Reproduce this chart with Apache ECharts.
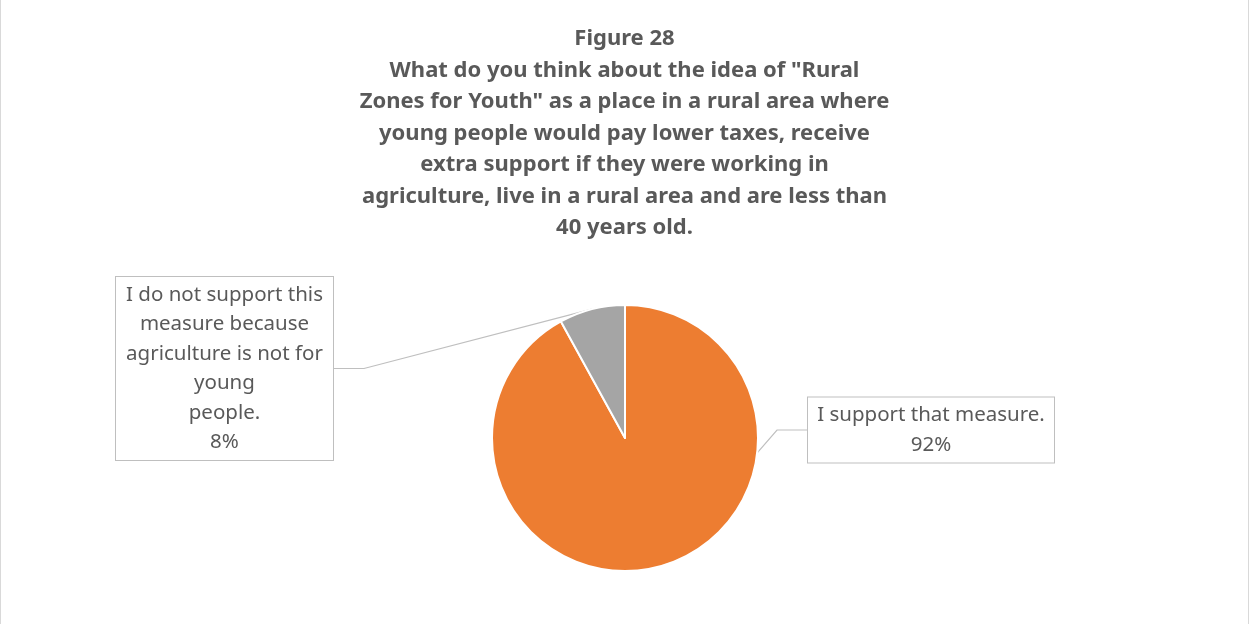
<!DOCTYPE html>
<html>
<head>
<meta charset="utf-8">
<script src="https://cdn.jsdelivr.net/npm/echarts@6/dist/echarts.min.js"></script>
<style>
  body { margin: 0; background: #fff; }
  #main { width: 1249px; height: 624px; }
  #frame { position: absolute; left: 0; top: 0; width: 1247px; height: 624px;
           border-left: 1px solid #D9D9D9; border-right: 1px solid #D9D9D9; pointer-events: none; }
</style>
</head>
<body>
<div id="main"></div>
<div id="frame"></div>
<script>
  const titleLines = [
    'Figure 28',
    'What do you think about the idea of "Rural',
    'Zones for Youth" as a place in a rural area where',
    'young people would pay lower taxes, receive',
    'extra support if they were working in',
    'agriculture, live in a rural area and are less than',
    '40 years old.'
  ];
  const categories = [
    'I support that measure.',
    'I do not support this\nmeasure because\nagriculture is not for\nyoung\npeople.'
  ];
  const values = [92, 8];
  const colors = ['#ED7D31', '#A5A5A5'];
  // callout boxes: centre and inner width
  const labelBoxes = [
    {x: 931, y: 430, w: 234},
    {x: 224.5, y: 368.5, w: 205}
  ];

  const chart = echarts.init(document.getElementById('main'));
  const font = '"Noto Sans", sans-serif';

  chart.setOption({
    animation: false,
    title: {
      text: titleLines.join('\n'),
      left: 'center',
      top: 18,
      textStyle: {
        fontFamily: font,
        fontSize: 22,
        fontWeight: 'bold',
        color: '#595959',
        lineHeight: 31.5
      }
    },
    series: [{
      type: 'pie',
      center: [625, 438],
      radius: 133,
      startAngle: 90,
      clockwise: true,
      itemStyle: { borderColor: '#fff', borderWidth: 2 },
      data: categories.map((name, i) => ({
        name: name,
        value: values[i],
        itemStyle: { color: colors[i] },
        label: { width: labelBoxes[i].w }
      })),
      label: {
        show: true,
        formatter: p => p.name + '\n' + p.value + '%',
        fontFamily: font,
        fontSize: 20.5,
        color: '#595959',
        lineHeight: 29.5,
        align: 'center',
        backgroundColor: '#fff',
        borderColor: '#BFBFBF',
        borderWidth: 1,
        padding: [3, 6, 3, 6]
      },
      labelLine: {
        show: true,
        lineStyle: { color: '#BFBFBF', width: 1.2 }
      },
      labelLayout: function (params) {
        const b = labelBoxes[params.dataIndex];
        return { x: b.x, y: b.y, align: 'center', verticalAlign: 'middle' };
      }
    }]
  });
</script>
</body>
</html>
